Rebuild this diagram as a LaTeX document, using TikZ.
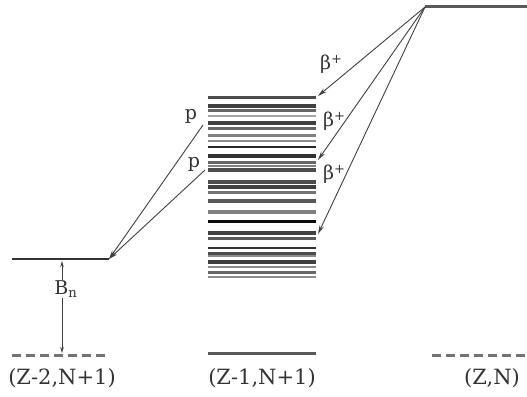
\documentclass[tikz,border=0pt]{standalone}
\usepackage{fontspec}
\setmainfont{DejaVu Serif}
\usetikzlibrary{arrows.meta}
\begin{document}
\begin{tikzpicture}[x=1pt,y=-1pt,
  level/.style={line width=3pt,draw=black!65},
  dlevel/.style={line width=3pt,draw=black!55,dash pattern=on 9pt off 5pt},
  trans/.style={line width=0.9pt,draw=black!75,-{Stealth[length=9pt,width=4.5pt]}},
  lbl/.style={font=\fontsize{19}{22}\selectfont,text=black!80,inner sep=1pt},
  axlbl/.style={font=\fontsize{21}{24}\selectfont,text=black!80,inner sep=0pt}]
\useasboundingbox (0,0) rectangle (527,396);
% levels
\coordinate (ZNa) at (425,7); \coordinate (ZNb) at (527,7);
\draw[level] (ZNa) -- (ZNb);
\coordinate (Lna) at (12,259); \coordinate (Lnb) at (109,259);
\draw[level,draw=black!80,line width=2.5pt] (Lna) -- (Lnb);
\coordinate (Lga) at (12,355); \coordinate (Lgb) at (106,355);
\draw[dlevel] (Lga) -- (Lgb);
\coordinate (Mga) at (208,353); \coordinate (Mgb) at (316,353);
\draw[level] (Mga) -- (Mgb);
\coordinate (Rga) at (432,355); \coordinate (Rgb) at (527,355);
\draw[dlevel] (Rga) -- (Rgb);
% band of levels
\foreach \y/\w/\c in {97.5/3.5/70,106/4/75,110.5/3/60,116/2/35,123/4/75,128/3/60,135/3/50,141/2.5/45,146.5/2/85,156/3.5/80,162/3/60,166/2.5/50,170/4/70,182/4/70,187/4/75,192/3/55,201/4/65,212/4/50,221.5/3/95,233/4.5/75,238/3/65,247.5/2/80,253/3/70,256/2/45,262/4/75,267/2.5/45,272/3/60,277/2.5/45}
  \draw[line width=\w pt,draw=black!\c] (208,\y) -- (316,\y);
% beta transitions
\coordinate (b1) at (318,96); \coordinate (b2) at (318,160); \coordinate (b3) at (318,234);
\draw[trans] (ZNa) -- (b1);
\draw[trans] (ZNa) -- (b2);
\draw[trans] (ZNa) -- (b3);
\node[lbl] (lb1) at (331,64) {β\raisebox{0.6ex}{\fontsize{13}{14}\selectfont +}};
\node[lbl] (lb2) at (334,121) {β\raisebox{0.6ex}{\fontsize{13}{14}\selectfont +}};
\node[lbl] (lb3) at (334,174) {β\raisebox{0.6ex}{\fontsize{13}{14}\selectfont +}};
% proton transitions
\coordinate (p1) at (203,125); \coordinate (p2) at (205,170);
\draw[trans] (p1) -- (Lnb);
\draw[trans] (p2) -- (Lnb);
\node[lbl] (lp1) at (191,116) {p};
\node[lbl] (lp2) at (194,164) {p};
% Bn
\node[lbl] (bn) at (66,289) {B\textsubscript{n}};
\coordinate (bnt) at (62,261); \coordinate (bnb) at (62,353);
\draw[trans,-{Stealth[length=6pt,width=3.5pt]}] (bn.north -| bnt) -- (bnt);
\draw[trans,-{Stealth[length=6pt,width=3.5pt]}] (bn.south -| bnb) -- (bnb);
% axis labels
\node[axlbl] (n1) at (62,378) {(Z-2,N+1)};
\node[axlbl] (n2) at (262,378) {(Z-1,N+1)};
\node[axlbl] (n3) at (492,378) {(Z,N)};
\end{tikzpicture}
\end{document}
